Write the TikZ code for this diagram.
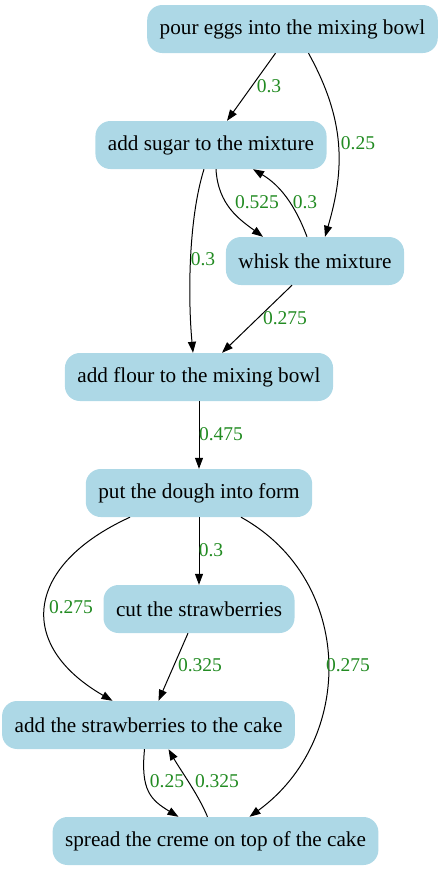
\documentclass[tikz,border=0pt]{standalone}
\usepackage{fontspec}
\setmainfont{Liberation Serif}
\usetikzlibrary{arrows.meta}
\definecolor{stepblue}{HTML}{ADD8E6}
\definecolor{lblgreen}{HTML}{228B22}
\begin{document}
\begin{tikzpicture}[x=1pt,y=-1pt,
    stepbox/.style={fill=stepblue,rounded corners=15pt,minimum height=48pt,inner xsep=12.5pt,font=\fontsize{21.2}{25}\selectfont},
    lbl/.style={text=lblgreen,inner sep=0pt,font=\fontsize{19.5}{23}\selectfont},
    edge/.style={-{Triangle[length=11pt,width=8pt]},line width=1pt}]
        \useasboundingbox (0,0) rectangle (443,871);

        \node[stepbox](eggs)at(292.5,29){pour eggs into the mixing bowl};
        \node[stepbox](sugar)at(211,145){add sugar to the mixture};
        \node[stepbox](whisk)at(315,261){whisk the mixture};
        \node[stepbox](flour)at(199,377){add flour to the mixing bowl};
        \node[stepbox](dough)at(199,493){put the dough into form};
        \node[stepbox](cut)at(199,609){cut the strawberries};
        \node[stepbox](addstr)at(148.5,725){add the strawberries to the cake};
        \node[stepbox](creme)at(215.5,841){spread the creme on top of the cake};

        \draw[edge]([xshift=-17]eggs.south)--([xshift=16]sugar.north);
        \draw[edge]([xshift=16]eggs.south)..controls +(37,67) and +(20,-68)..([xshift=10]whisk.north);
        \draw[edge]([xshift=5]sugar.south)..controls +(2,36) and +(-23,-17)..([xshift=-52]whisk.north);
        \draw[edge]([xshift=-8]whisk.north)..controls +(-12,-32) and +(27,16)..([xshift=42]sugar.south);
        \draw[edge]([xshift=-7]sugar.south)..controls +(-16,51) and +(-5,-53)..([xshift=-6]flour.north);
        \draw[edge]([xshift=-23]whisk.south)--([xshift=23]flour.north);
        \draw[edge](flour.south)--(dough.north);
        \draw[edge](dough.south)--(cut.north);
        \draw[edge]([xshift=-69]dough.south)..controls +(-105,48) and +(-97,-56)..([xshift=-36]addstr.north);
        \draw[edge]([xshift=-11]cut.south)--([xshift=10]addstr.north);
        \draw[edge]([xshift=42]dough.south)..controls +(114,63) and +(106,-77)..([xshift=34]creme.north);
        \draw[edge]([xshift=-4]addstr.south)..controls +(-4,41) and +(-28,-17)..([xshift=-37]creme.north);
        \draw[edge]([xshift=-8]creme.north)..controls +(-9,-22) and +(12,21)..([xshift=20]addstr.south);

        \node[lbl](w1)at(269,86){0.3};
        \node[lbl](w2)at(358,143){0.25};
        \node[lbl](w3)at(257,202){0.525};
        \node[lbl](w4)at(305,202){0.3};
        \node[lbl](w5)at(203,259){0.3};
        \node[lbl](w6)at(285,318){0.275};
        \node[lbl](w7)at(221,434){0.475};
        \node[lbl](w8)at(211,550){0.3};
        \node[lbl](w9)at(71,607){0.275};
        \node[lbl](w10)at(200,665){0.325};
        \node[lbl](w11)at(348,665){0.275};
        \node[lbl](w12)at(167,781){0.25};
        \node[lbl](w13)at(217,781){0.325};
    \end{tikzpicture}
\end{document}
